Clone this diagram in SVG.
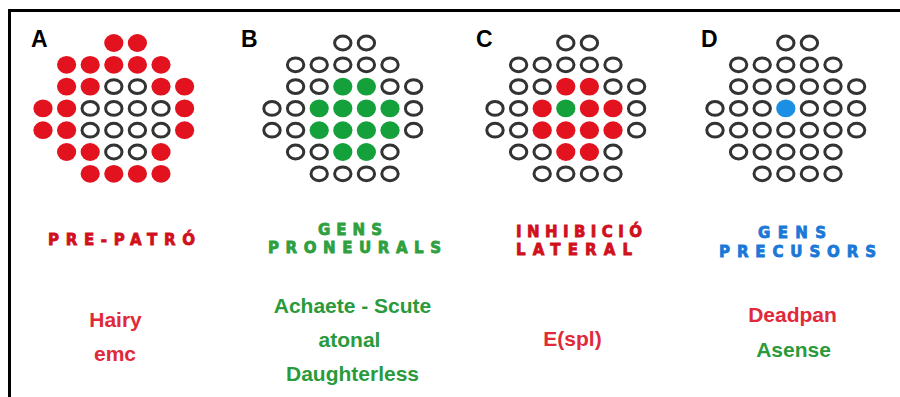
<svg xmlns="http://www.w3.org/2000/svg" width="900" height="397" viewBox="0 0 900 397">
<style>
.o{fill:#fff;stroke:#333;stroke-width:3}
.r{fill:#e3121f}
.g{fill:#14a03a}
.b{fill:#1a8fe3}
.let{font-family:"Liberation Sans",Arial,sans-serif;font-weight:bold;font-size:23px;fill:#000}
.hd{font-family:"DejaVu Sans","Liberation Sans",sans-serif;font-weight:bold;font-size:15px;stroke-width:0.8}
.gn{font-family:"Liberation Sans",Arial,sans-serif;font-weight:bold;font-size:21px;text-anchor:middle}
.hr{fill:#d0101c;stroke:#d0101c}
.hg{fill:#2ea040;stroke:#2ea040}
.hb{fill:#1a78d8;stroke:#1a78d8}
.tr{fill:#e02a3a}
.tg{fill:#2a9a3c}
</style>
<defs>
<ellipse id="O" class="o" rx="8.2" ry="6.9"/>
<ellipse id="R" class="r" rx="9.6" ry="8.9"/>
<ellipse id="G" class="g" rx="9.6" ry="8.9"/>
<ellipse id="B" class="b" rx="9.6" ry="8.9"/>
</defs>
<rect width="900" height="397" fill="#fff"/>
<path d="M9.5,397 V10.5 H900" fill="none" stroke="#000" stroke-width="3"/>

<g id="panelA">
<text class="let" x="31" y="47">A</text>
<g id="gridA">
<use href="#R" x="113.8" y="43"/><use href="#R" x="137.4" y="43"/>
<use href="#R" x="66.6" y="64.8"/><use href="#R" x="90.2" y="64.8"/><use href="#R" x="113.8" y="64.8"/><use href="#R" x="137.4" y="64.8"/><use href="#R" x="161" y="64.8"/>
<use href="#R" x="66.6" y="86.6"/><use href="#R" x="90.2" y="86.6"/><use href="#O" x="113.8" y="86.6"/><use href="#O" x="137.4" y="86.6"/><use href="#R" x="161" y="86.6"/><use href="#R" x="184.6" y="86.6"/>
<use href="#R" x="43" y="108.4"/><use href="#R" x="66.6" y="108.4"/><use href="#O" x="90.2" y="108.4"/><use href="#O" x="113.8" y="108.4"/><use href="#O" x="137.4" y="108.4"/><use href="#O" x="161" y="108.4"/><use href="#R" x="184.6" y="108.4"/>
<use href="#R" x="43" y="130.2"/><use href="#R" x="66.6" y="130.2"/><use href="#O" x="90.2" y="130.2"/><use href="#O" x="113.8" y="130.2"/><use href="#O" x="137.4" y="130.2"/><use href="#O" x="161" y="130.2"/><use href="#R" x="184.6" y="130.2"/>
<use href="#R" x="66.6" y="152"/><use href="#R" x="90.2" y="152"/><use href="#O" x="113.8" y="152"/><use href="#O" x="137.4" y="152"/><use href="#R" x="161" y="152"/>
<use href="#R" x="90.2" y="173.8"/><use href="#R" x="113.8" y="173.8"/><use href="#R" x="137.4" y="173.8"/><use href="#R" x="161" y="173.8"/>
</g>
<text class="hd hr" x="48" y="245" textLength="147" lengthAdjust="spacing">PRE-PATRÓ</text>
<text class="gn tr" x="115.5" y="327">Hairy</text>
<text class="gn tr" x="115" y="361">emc</text>
</g>

<g id="panelB">
<text class="let" x="241" y="47">B</text>
<g id="gridB">
<use href="#O" x="342.8" y="43"/><use href="#O" x="366.4" y="43"/>
<use href="#O" x="295.6" y="64.8"/><use href="#O" x="319.2" y="64.8"/><use href="#O" x="342.8" y="64.8"/><use href="#O" x="366.4" y="64.8"/><use href="#O" x="390" y="64.8"/>
<use href="#O" x="295.6" y="86.6"/><use href="#O" x="319.2" y="86.6"/><use href="#G" x="342.8" y="86.6"/><use href="#G" x="366.4" y="86.6"/><use href="#O" x="390" y="86.6"/><use href="#O" x="413.6" y="86.6"/>
<use href="#O" x="272" y="108.4"/><use href="#O" x="295.6" y="108.4"/><use href="#G" x="319.2" y="108.4"/><use href="#G" x="342.8" y="108.4"/><use href="#G" x="366.4" y="108.4"/><use href="#G" x="390" y="108.4"/><use href="#O" x="413.6" y="108.4"/>
<use href="#O" x="272" y="130.2"/><use href="#O" x="295.6" y="130.2"/><use href="#G" x="319.2" y="130.2"/><use href="#G" x="342.8" y="130.2"/><use href="#G" x="366.4" y="130.2"/><use href="#G" x="390" y="130.2"/><use href="#O" x="413.6" y="130.2"/>
<use href="#O" x="295.6" y="152"/><use href="#O" x="319.2" y="152"/><use href="#G" x="342.8" y="152"/><use href="#G" x="366.4" y="152"/><use href="#O" x="390" y="152"/>
<use href="#O" x="319.2" y="173.8"/><use href="#O" x="342.8" y="173.8"/><use href="#O" x="366.4" y="173.8"/><use href="#O" x="390" y="173.8"/>
</g>
<text class="hd hg" x="318" y="235" textLength="64" lengthAdjust="spacing">GENS</text>
<text class="hd hg" x="268" y="253" textLength="173" lengthAdjust="spacing">PRONEURALS</text>
<text class="gn tg" x="352.5" y="313">Achaete - Scute</text>
<text class="gn tg" x="349.5" y="347">atonal</text>
<text class="gn tg" x="352.5" y="381">Daughterless</text>
</g>

<g id="panelC">
<text class="let" x="476" y="47">C</text>
<g id="gridC">
<use href="#O" x="565.8" y="43"/><use href="#O" x="589.4" y="43"/>
<use href="#O" x="518.6" y="64.8"/><use href="#O" x="542.2" y="64.8"/><use href="#O" x="565.8" y="64.8"/><use href="#O" x="589.4" y="64.8"/><use href="#O" x="613" y="64.8"/>
<use href="#O" x="518.6" y="86.6"/><use href="#O" x="542.2" y="86.6"/><use href="#R" x="565.8" y="86.6"/><use href="#R" x="589.4" y="86.6"/><use href="#O" x="613" y="86.6"/><use href="#O" x="636.6" y="86.6"/>
<use href="#O" x="495" y="108.4"/><use href="#O" x="518.6" y="108.4"/><use href="#R" x="542.2" y="108.4"/><use href="#G" x="565.8" y="108.4"/><use href="#R" x="589.4" y="108.4"/><use href="#R" x="613" y="108.4"/><use href="#O" x="636.6" y="108.4"/>
<use href="#O" x="495" y="130.2"/><use href="#O" x="518.6" y="130.2"/><use href="#R" x="542.2" y="130.2"/><use href="#R" x="565.8" y="130.2"/><use href="#R" x="589.4" y="130.2"/><use href="#R" x="613" y="130.2"/><use href="#O" x="636.6" y="130.2"/>
<use href="#O" x="518.6" y="152"/><use href="#O" x="542.2" y="152"/><use href="#R" x="565.8" y="152"/><use href="#R" x="589.4" y="152"/><use href="#O" x="613" y="152"/>
<use href="#O" x="542.2" y="173.8"/><use href="#O" x="565.8" y="173.8"/><use href="#O" x="589.4" y="173.8"/><use href="#O" x="613" y="173.8"/>
</g>
<text class="hd hr" x="516" y="237" textLength="126" lengthAdjust="spacing">INHIBICIÓ</text>
<text class="hd hr" x="516" y="255" textLength="116" lengthAdjust="spacing">LATERAL</text>
<text class="gn tr" x="572.5" y="346">E(spl)</text>
</g>

<g id="panelD">
<text class="let" x="701" y="47">D</text>
<g id="gridD">
<use href="#O" x="785.8" y="43"/><use href="#O" x="809.4" y="43"/>
<use href="#O" x="738.6" y="64.8"/><use href="#O" x="762.2" y="64.8"/><use href="#O" x="785.8" y="64.8"/><use href="#O" x="809.4" y="64.8"/><use href="#O" x="833" y="64.8"/>
<use href="#O" x="738.6" y="86.6"/><use href="#O" x="762.2" y="86.6"/><use href="#O" x="785.8" y="86.6"/><use href="#O" x="809.4" y="86.6"/><use href="#O" x="833" y="86.6"/><use href="#O" x="856.6" y="86.6"/>
<use href="#O" x="715" y="108.4"/><use href="#O" x="738.6" y="108.4"/><use href="#O" x="762.2" y="108.4"/><use href="#B" x="785.8" y="108.4"/><use href="#O" x="809.4" y="108.4"/><use href="#O" x="833" y="108.4"/><use href="#O" x="856.6" y="108.4"/>
<use href="#O" x="715" y="130.2"/><use href="#O" x="738.6" y="130.2"/><use href="#O" x="762.2" y="130.2"/><use href="#O" x="785.8" y="130.2"/><use href="#O" x="809.4" y="130.2"/><use href="#O" x="833" y="130.2"/><use href="#O" x="856.6" y="130.2"/>
<use href="#O" x="738.6" y="152"/><use href="#O" x="762.2" y="152"/><use href="#O" x="785.8" y="152"/><use href="#O" x="809.4" y="152"/><use href="#O" x="833" y="152"/>
<use href="#O" x="762.2" y="173.8"/><use href="#O" x="785.8" y="173.8"/><use href="#O" x="809.4" y="173.8"/><use href="#O" x="833" y="173.8"/>
</g>
<text class="hd hb" x="758" y="238" textLength="68" lengthAdjust="spacing">GENS</text>
<text class="hd hb" x="719" y="257" textLength="157" lengthAdjust="spacing">PRECUSORS</text>
<text class="gn tr" x="792.5" y="322">Deadpan</text>
<text class="gn tg" x="793.5" y="357">Asense</text>
</g>
</svg>
